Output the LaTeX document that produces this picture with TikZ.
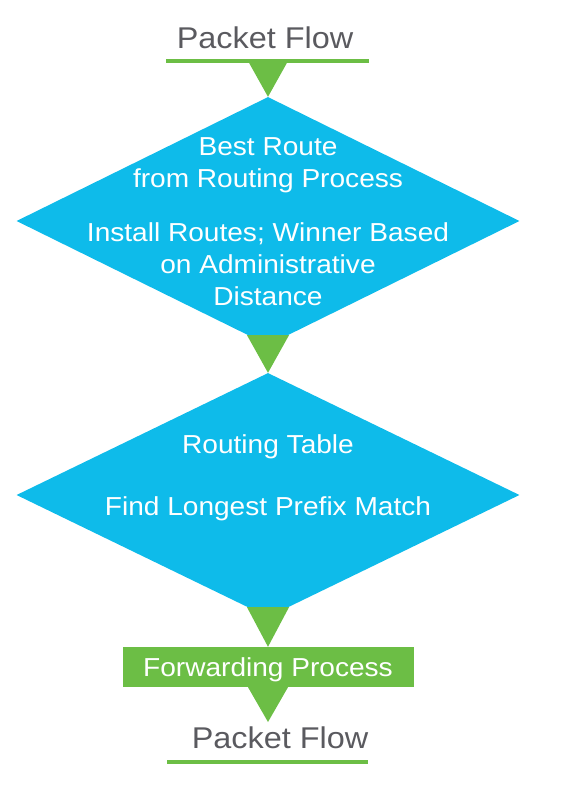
\documentclass[tikz,border=0pt]{standalone}
\usepackage{fontspec}
\setmainfont[FakeStretch=1.08]{Liberation Sans}
\usetikzlibrary{shapes.geometric}
\usetikzlibrary{calc}
\definecolor{routeblue}{HTML}{0EBBEA}
\definecolor{flowgreen}{HTML}{6CBE45}
\definecolor{flowgray}{HTML}{5A5A5F}
\tikzstyle{decision} = [diamond, fill=routeblue, minimum width=503pt, minimum height=248pt, inner sep=0pt]
\tikzstyle{process} = [rectangle, fill=flowgreen, minimum width=291pt, minimum height=40pt, inner sep=0pt]
\tikzstyle{boxtext} = [text=white, font=\fontsize{26}{32}\selectfont, align=center, anchor=base, inner sep=0pt]
\tikzstyle{flowtext} = [text=flowgray, font=\fontsize{30}{36}\selectfont, anchor=base, inner sep=0pt]
\tikzstyle{flowline} = [draw=flowgreen, line width=4pt]
\tikzstyle{tip} = [fill=flowgreen]

\begin{document}
\begin{tikzpicture}[x=1pt,y=-1pt]
	\useasboundingbox (0,0) rectangle (583,787);
	\node[flowtext] (inflow) at (265,48) {Packet Flow};
	\draw[flowline] (166,61) -- (369,61) coordinate(in line);
	\node[decision] (best) at (268,221) {};
	\node[decision, minimum height=244pt] (table) at (268,495) {};
	\node[process] (fwd) at (268,667) {};
	\node[flowtext] (outflow) at (280,748) {Packet Flow};
	\draw[flowline] (167,762) -- (368,762);
	\coordinate (tail) at (268,722);
	% texts (base = last line)
	\node[boxtext] at (268,187) {Best Route\\from Routing Process};
	\node[boxtext] at (268,305) {Install Routes; Winner Based\\on Administrative\\Distance};
	\node[boxtext] at (268,453) {Routing Table};
	\node[boxtext] at (268,515) {Find Longest Prefix Match};
	\node[boxtext] at (268,676) {Forwarding Process};
	% flow tips
	\fill[tip] (248,61) -- (288,61) -- (best.north) -- cycle;
	\fill[tip] ($(best.south)+(-21,-10)$) -- ($(best.south)+(21,-10)$) -- (table.north) -- cycle;
	\fill[tip] ($(table.south)+(-21,-10)$) -- ($(table.south)+(21,-10)$) -- (fwd.north) -- cycle;
	\fill[tip] ($(fwd.south)+(-20,0)$) -- ($(fwd.south)+(20,0)$) -- (tail) -- cycle;
\end{tikzpicture}
\end{document}
